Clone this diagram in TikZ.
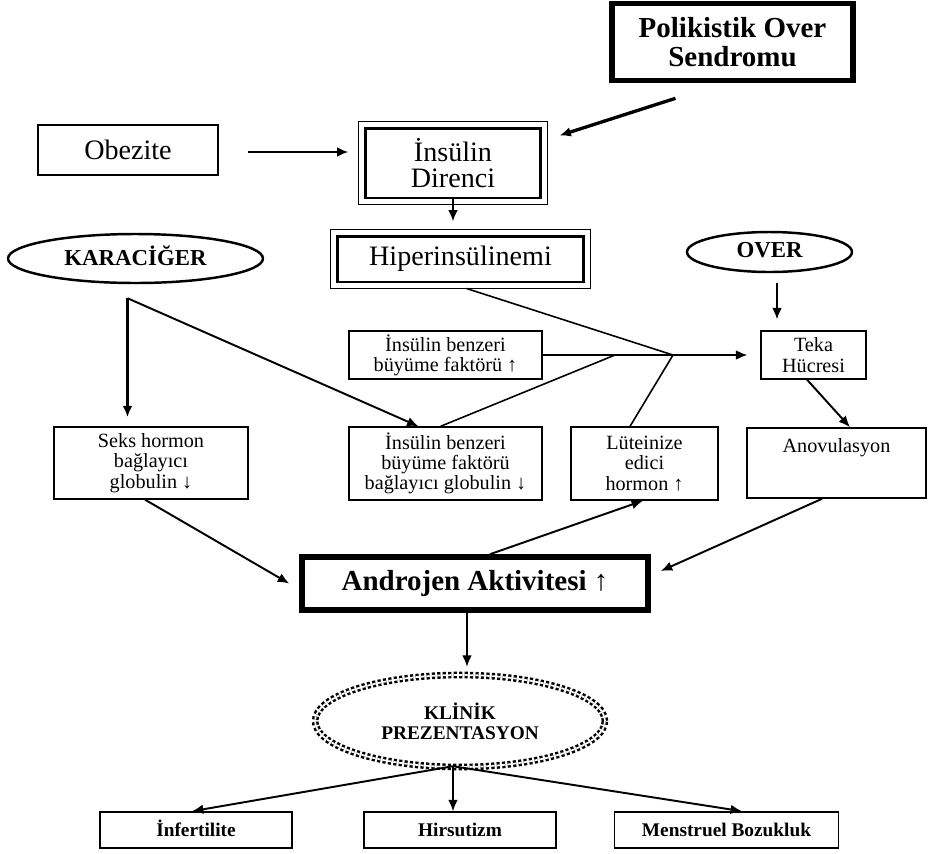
\documentclass[tikz,border=0pt]{standalone}
\usepackage{fontspec}
\setmainfont{Liberation Serif}
\usetikzlibrary{calc,arrows.meta,shapes.geometric}

\begin{document}
\begin{tikzpicture}[x=0.02cm,y=-0.02cm,
	box/.style={draw,line width=0.75pt,align=center,inner sep=0pt,font=\fontsize{11.5}{11.5}\selectfont},
	bigbox/.style={draw,line width=1.7pt,align=center,inner sep=0pt,font=\fontsize{16}{15}\selectfont},
	heavybox/.style={draw,line width=3.2pt,align=center,inner sep=0pt,font=\bfseries\fontsize{16.5}{16.5}\selectfont},
	organ/.style={draw,ellipse,line width=1.4pt,inner sep=0pt,text height=9pt,text depth=0.5pt,font=\bfseries\fontsize{13}{13}\selectfont},
	endbox/.style={draw,line width=0.9pt,inner sep=0pt,minimum width=3.84cm,minimum height=0.72cm,text height=7.5pt,text depth=0.5pt,font=\bfseries\fontsize{11}{11}\selectfont},
	arr/.style={-{Latex[length=6.5pt,width=5.5pt]},line width=0.9pt}]
		\useasboundingbox (0,0) rectangle (930,853);
		\node[heavybox,minimum width=4.82cm,minimum height=1.54cm] (pcos) at (732.5,42) {Polikistik Over\\Sendromu};
		\node[bigbox,line width=1.2pt,minimum width=3.6cm,minimum height=1cm] (obez) at (128,150) {Obezite};
		\node[bigbox,minimum width=3.52cm,minimum height=1.4cm] (insr) at (453,163) {İnsülin\\Direnci};
		\draw[line width=0.8pt] ($(insr.north west)+(-5,-5)$) rectangle ($(insr.south east)+(5,5)$);
		\node[bigbox,minimum width=4.94cm,minimum height=0.92cm] (hiper) at (460.5,259) {Hiperinsülinemi};
		\draw[line width=0.8pt] ($(hiper.north west)+(-5,-5)$) rectangle ($(hiper.south east)+(5,5)$);
		\node[organ,minimum width=5.1cm,minimum height=0.98cm] (kc) at (135.5,258.5) {KARACİĞER};
		\node[organ,minimum width=3.3cm,minimum height=0.8cm,text depth=2.5pt] (over) at (769.5,252) {OVER};
		\node[box,minimum width=3.86cm,minimum height=0.96cm] (igf) at (445.5,355) {İnsülin benzeri\\büyüme faktörü ↑};
		\node[box,minimum width=2.1cm,minimum height=0.96cm] (teka) at (813.5,355) {Teka\\Hücresi};
		\node[box,minimum width=3.88cm,minimum height=1.44cm] (shbg) at (151,463) {Seks hormon\\bağlayıcı\\globulin ↓};
		\node[box,minimum width=3.86cm,minimum height=1.46cm] (igfbp) at (445.5,463.5) {İnsülin benzeri\\büyüme faktörü\\bağlayıcı globulin ↓};
		\node[box,minimum width=2.94cm,minimum height=1.46cm] (lh) at (644.5,463.5) {Lüteinize\\edici\\hormon ↑};
		\node[box,minimum width=3.58cm,inner ysep=5pt,text height=9pt,text depth=21pt] (anov) at (836.5,463) {Anovulasyon};
		\node[heavybox,minimum width=6.92cm,minimum height=1.06cm] (andr) at (475,583.5) {Androjen Aktivitesi ↑};
		\node[ellipse,draw,line width=1.4pt,double=white,double distance=1pt,dash pattern=on 1.8pt off 1.3pt,inner sep=0pt,minimum width=5.8cm,minimum height=1.84cm,align=center,font=\bfseries\fontsize{11}{11.5}\selectfont] (klin) at (460,721) {KLİNİK\\PREZENTASYON};
		\node[endbox] (inf) at (196,830) {İnfertilite};
		\node[endbox] (hirs) at (460,830) {Hirsutizm};
		\node[endbox,minimum width=4.48cm] (mens) at (726.5,830) {Menstruel Bozukluk};
		\coordinate (pcs) at ($(pcos.south)+(-57,15)$);
		\coordinate (kcs) at ($(kc.south)+(-8,14)$);
		\coordinate (jn) at (673,355);
		\coordinate (jl) at (615,355);
		\coordinate (kls) at ($(klin.south)+(-7,-2)$);
		\draw[arr,line width=1.9pt] (pcs) -- ($(insr.north east)+(17,9)$);
		\draw[arr,line width=1.2pt] ($(obez.east)+(29,2)$) -- ($(insr.west)+(-15,-11)$);
		\draw[arr,line width=1.2pt,shorten >=0.26cm] (insr.south) -- (insr.south |- hiper.north);
		\draw[arr,line width=1.4pt,shorten >=0.18cm] (kcs) -- (kcs |- shbg.north);
		\draw[arr,line width=1.1pt] (kcs) -- ($(igfbp.north)+(-27,0)$);
		\draw[line width=0.9pt] ($(hiper.south)+(6,5)$) -- (jn);
		\draw[line width=0.9pt] ($(igfbp.north)+(-5,0)$) -- (jl);
		\draw[line width=0.9pt] ($(lh.north)+(-14.5,0)$) -- (jn);
		\draw[arr,shorten >=0.26cm] (igf.east) -- (teka.west);
		\draw[arr] ($(over.south)+(7.5,10)$) -- ($(teka.north)+(-36.5,-11)$);
		\draw[arr,line width=1.1pt] ($(teka.south)+(-6.5,0)$) -- ($(anov.north)+(13.5,0)$);
		\draw[arr,line width=1.1pt] ($(shbg.south)+(-6,0)$) -- ($(andr.west)+(-10,0)$);
		\draw[arr,line width=1.1pt] ($(andr.north)+(15,0)$) -- ($(lh.south)+(-1.5,0)$);
		\draw[arr,line width=1.1pt] ($(anov.south)+(-14.5,0)$) -- ($(andr.east)+(10,-12.5)$);
		\draw[arr] ($(andr.south)+(-8,0)$) -- ($(klin.north)+(7,-7)$);
		\draw[arr,line width=1.1pt] (kls) -- ($(inf.north)+(-4,0)$);
		\draw[arr] (kls) -- (kls |- hirs.north);
		\draw[arr,line width=1.1pt] (kls) -- ($(mens.north)+(15.5,0)$);
	\end{tikzpicture}
\end{document}
